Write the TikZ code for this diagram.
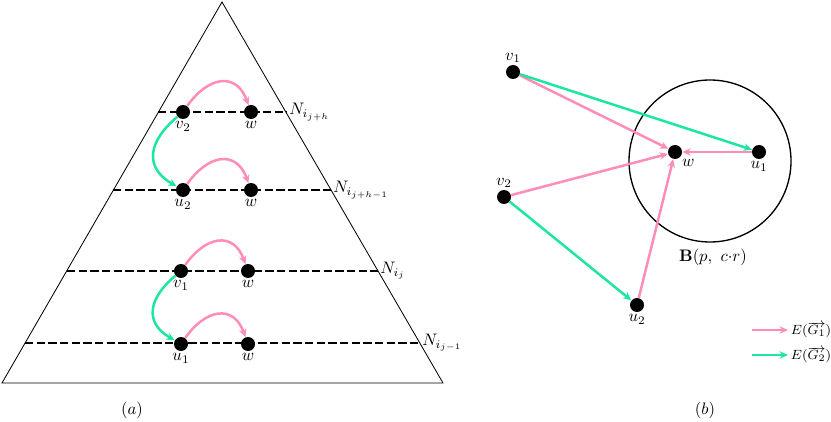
\documentclass[tikz,border=0pt]{standalone}
\usetikzlibrary{arrows.meta}
\definecolor{edgepink}{RGB}{255,140,185}
\definecolor{edgegreen}{RGB}{30,230,160}
\begin{document}
\begin{tikzpicture}[x=0.6pt,y=0.6pt,
    dot/.style={circle,fill=black,inner sep=0pt,minimum size=8.4pt},
    pinkedge/.style={-{Stealth[length=5pt,width=4.5pt]},edgepink,line width=1.5pt},
    greenedge/.style={-{Stealth[length=5pt,width=4.5pt]},edgegreen,line width=1.5pt},
    layer/.style={line width=0.8pt,dash pattern=on 5pt off 2pt},
    keytext/.style={right,inner sep=1pt,text=black,font=\footnotesize}]
    \useasboundingbox (0,0) rectangle (831,421);

    % Pyramid
    \coordinate (top) at (222,419);
    \coordinate (bl) at (2,38);
    \coordinate (br) at (443,38);
    \draw[line width=0.5pt] (bl) -- (top) -- (br) -- cycle;

    % Levels
    \coordinate (l4) at (158,309); \coordinate (r4) at (287,309);
    \coordinate (l3) at (113,231); \coordinate (r3) at (331,231);
    \coordinate (l2) at (67,150);  \coordinate (r2) at (378,150);
    \coordinate (l1) at (25,78);   \coordinate (r1) at (420,78);
    \draw[layer] (l4) -- (r4) node[right,inner sep=1pt] (n4) {$N_{i_{j+h}}$};
    \draw[layer] (l3) -- (r3) node[right,inner sep=1pt] (n3) {$N_{i_{j+h-1}}$};
    \draw[layer] (l2) -- (r2) node[right,inner sep=1pt] (n2) {$N_{i_j}$};
    \draw[layer] (l1) -- (r1) node[right,inner sep=1pt] (n1) {$N_{i_{j-1}}$};

    % Points on the levels
    \node[dot,label={[inner sep=1pt]below:$v_2$}] (v2a) at (183,309) {};
    \node[dot,label={[inner sep=1pt]below:$w$}] (w4) at (251,309) {};
    \node[dot,label={[inner sep=1pt]below:$u_2$}] (u2a) at (183,231) {};
    \node[dot,label={[inner sep=1pt]below:$w$}] (w3) at (251,231) {};
    \node[dot,label={[inner sep=1pt]below:$v_1$}] (v1a) at (181,150) {};
    \node[dot,label={[inner sep=1pt]below:$w$}] (w2) at (248,150) {};
    \node[dot,label={[inner sep=1pt]below:$u_1$}] (u1a) at (181,77) {};
    \node[dot,label={[inner sep=1pt]below:$w$}] (w1) at (248,77) {};

    \draw[pinkedge] (v2a) to[out=55,in=110,looseness=1.5] (w4);
    \draw[pinkedge] (u2a) to[out=55,in=110,looseness=1.5] (w3);
    \draw[pinkedge] (v1a) to[out=55,in=110,looseness=1.5] (w2);
    \draw[pinkedge] (u1a) to[out=55,in=110,looseness=1.5] (w1);
    \draw[greenedge] (v2a) to[out=220,in=150,looseness=1.4] (u2a);
    \draw[greenedge] (v1a) to[out=220,in=150,looseness=1.4] (u1a);

    \node (capa) at (132,11) {$(a)$};

    % Ball around w
    \draw[line width=0.8pt] (710,260) circle (81);
    \node (ball) at (713,164) {$\mathbf{B}(p,\ c{\cdot}r)$};

    \node[dot,label={[inner sep=1pt]above:$v_1$}] (v1) at (513,349) {};
    \node[dot,label={[inner sep=1pt]above:$v_2$}] (v2) at (504,224) {};
    \node[dot,label={[inner sep=1pt]below right:$w$}] (w) at (675,269) {};
    \node[dot,label={[inner sep=1pt]below:$u_1$}] (u1) at (759,269) {};
    \node[dot,label={[inner sep=1pt]below:$u_2$}] (u2) at (637,116) {};

    \draw[pinkedge] (v1) -- (w);
    \draw[pinkedge] (v2) -- (w);
    \draw[pinkedge] (u1) -- (w);
    \draw[pinkedge] (u2) -- (w);
    \draw[greenedge] (v1) -- (u1);
    \draw[greenedge] (v2) -- (u2);

    % Legend
    \coordinate (lp1) at (752,91); \coordinate (lp2) at (788,91);
    \coordinate (lg1) at (752,66); \coordinate (lg2) at (788,66);
    \draw[pinkedge] (lp1) -- (lp2) node[keytext] (keyp) {$E(\overrightarrow{G_1})$};
    \draw[greenedge] (lg1) -- (lg2) node[keytext] (keyg) {$E(\overrightarrow{G_2})$};

    \node (capb) at (705,11) {$(b)$};
\end{tikzpicture}
\end{document}
